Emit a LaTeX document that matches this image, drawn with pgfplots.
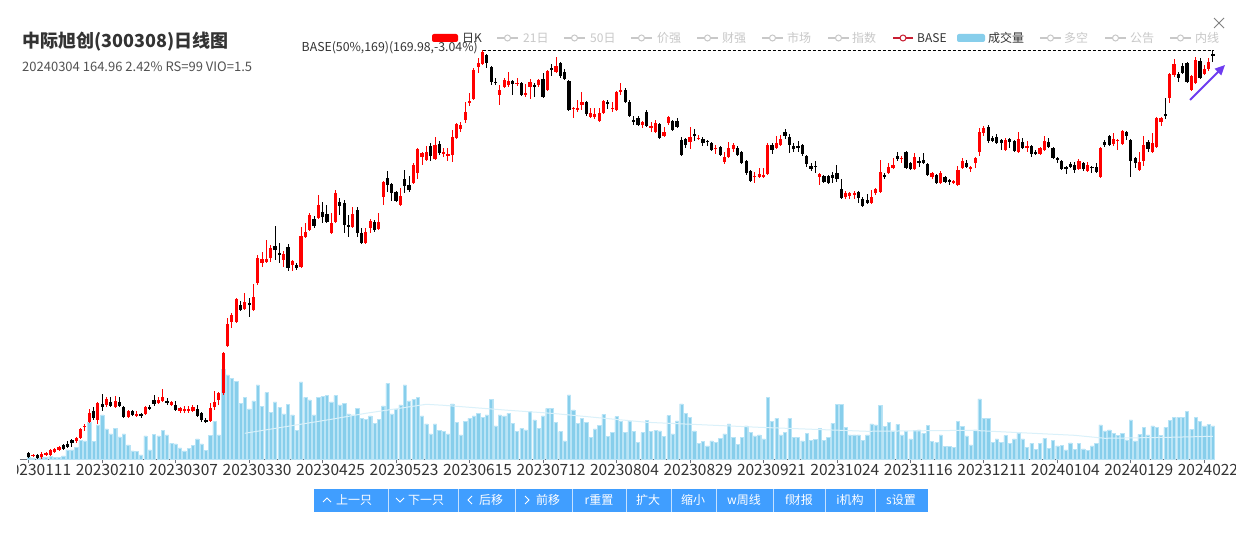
\documentclass[border=0pt]{standalone}
\usepackage{pgfplots}
\pgfplotsset{compat=1.18}
\usepackage{pgfplotstable}
\usepackage{fontspec}
\setmainfont{Noto Sans CJK SC}
\usetikzlibrary{arrows.meta}

\definecolor{upred}{RGB}{255,0,0}
\definecolor{downblk}{RGB}{0,0,0}
\definecolor{volblue}{RGB}{135,206,235}
\definecolor{voledge}{RGB}{185,228,246}
\definecolor{volline}{RGB}{218,241,250}
\definecolor{btnblue}{RGB}{64,158,255}
\definecolor{txtdark}{RGB}{51,51,51}
\definecolor{txtgrey}{RGB}{200,200,200}
\definecolor{axisgrey}{RGB}{110,112,121}
\definecolor{baseicon}{RGB}{200,30,50}
\definecolor{arrowviolet}{RGB}{110,60,240}

% daily candles: index, open, high, low, close, volume
\pgfplotstableread{
i o h l c v
0 8.8 9.2 6.8 7.2 2.0
1 7.6 8.4 7.2 8.0 1.3
2 8.0 8.4 6.4 6.8 1.0
3 7.2 9.2 6.4 8.4 2.0
4 8.0 9.2 7.6 8.8 2.0
5 8.0 10.4 7.6 10.0 2.6
6 9.2 10.8 8.8 10.4 1.6
7 10.0 11.6 9.6 11.2 2.0
8 12.0 12.4 10.0 10.4 3.3
9 12.4 13.6 10.8 11.2 9.3
10 14.0 14.4 11.2 12.8 9.3
11 13.6 15.2 12.8 14.8 12.0
12 14.8 18.8 14.4 18.4 18.6
13 19.2 20.4 17.6 19.6 18.3
14 21.2 26.4 20.8 24.8 36.6
15 25.6 27.2 22.0 22.8 17.6
16 22.0 29.2 20.4 28.8 34.3
17 28.4 32.4 25.6 27.2 44.3
18 28.0 31.2 27.2 30.4 30.3
19 29.2 31.2 27.2 27.6 25.3
20 27.2 31.6 26.8 29.6 31.0
21 29.2 31.2 27.2 27.6 22.3
22 27.2 27.6 22.8 23.2 25.3
23 23.2 26.0 22.8 25.6 14.3
24 25.6 26.0 23.6 24.0 8.3
25 23.6 25.6 23.2 24.4 7.6
26 24.4 24.8 22.8 23.6 4.3
27 24.4 27.6 24.0 27.2 23.3
28 27.2 28.0 26.0 26.4 9.3
29 30.0 32.0 27.6 28.4 25.0
30 28.8 31.2 28.4 30.0 23.3
31 29.6 34.4 29.2 31.2 28.6
32 29.6 30.8 28.0 28.8 24.3
33 28.0 29.6 27.6 29.2 16.0
34 28.0 29.6 25.6 26.0 15.3
35 25.6 27.2 24.8 26.8 11.3
36 25.6 27.6 24.8 26.4 8.3
37 25.6 27.6 24.8 26.4 11.0
38 25.6 28.0 25.2 27.2 14.0
39 26.4 28.0 23.2 23.6 20.3
40 24.8 25.2 21.2 22.0 15.3
41 22.0 22.8 20.8 21.2 8.6
42 21.6 28.8 21.2 26.8 23.6
43 27.2 33.6 26.0 29.2 37.6
44 30.0 33.2 28.0 32.8 24.3
45 32.8 49.2 32.0 48.8 90.0
46 51.6 62.8 51.2 60.4 84.3
47 61.2 64.8 58.8 64.0 81.0
48 61.2 70.8 60.8 70.4 77.6
49 68.0 69.6 65.6 66.0 56.0
50 66.4 72.8 66.0 69.2 62.0
51 68.8 70.8 63.2 68.0 50.3
52 66.0 76.4 65.6 71.2 58.3
53 76.8 88.0 76.0 86.8 74.3
54 84.8 89.2 83.2 86.4 52.6
55 85.2 94.0 84.8 86.4 66.6
56 86.8 92.0 85.2 90.8 46.6
57 91.6 99.6 86.0 90.0 57.3
58 88.8 92.8 84.8 88.0 52.0
59 86.0 89.6 83.2 88.4 45.3
60 91.2 92.4 81.6 82.8 55.0
61 84.0 86.0 81.6 85.6 44.3
62 84.0 84.8 82.0 82.8 28.6
63 83.2 99.2 82.8 95.6 77.3
64 95.2 100.8 94.8 97.2 62.0
65 98.0 104.8 97.6 104.0 59.3
66 102.4 103.6 98.8 99.6 44.3
67 102.8 112.0 102.4 108.0 62.0
68 105.2 109.2 100.8 103.2 62.6
69 104.4 108.0 100.8 101.2 63.6
70 96.8 104.8 96.4 100.8 57.3
71 101.2 114.0 100.8 112.8 63.6
72 109.2 110.8 104.0 107.6 54.5
73 108.8 110.0 96.8 100.0 56.0
74 100.0 104.0 95.2 99.2 45.3
75 99.2 107.2 98.8 104.4 44.3
76 106.0 107.2 95.2 96.8 51.0
77 96.8 98.8 92.4 92.8 41.0
78 92.8 98.8 92.4 97.2 40.0
79 98.8 102.4 96.8 101.6 43.3
80 101.2 102.0 97.2 98.0 36.0
81 98.4 104.8 98.0 101.2 40.0
82 111.2 117.6 108.0 117.2 53.3
83 118.8 121.6 113.2 116.0 76.0
84 116.4 116.8 109.6 112.8 45.3
85 113.2 113.6 109.2 109.6 50.0
86 108.0 114.8 107.6 111.6 54.3
87 118.4 122.0 112.8 115.6 74.3
88 116.0 119.6 113.2 114.0 58.3
89 116.8 124.8 116.4 124.0 60.0
90 120.8 130.8 118.4 130.4 62.0
91 127.2 129.2 124.0 128.8 43.3
92 126.0 131.6 125.6 129.2 35.3
93 131.6 132.8 125.6 127.6 25.3
94 126.4 135.2 126.0 132.0 35.3
95 132.4 133.6 128.0 128.8 28.6
96 128.4 130.8 127.2 129.2 28.0
97 127.6 130.8 125.6 128.4 25.3
98 128.0 138.0 125.2 135.2 55.3
99 134.8 140.8 134.4 140.4 37.0
100 138.4 141.2 137.2 140.0 24.3
101 142.0 149.2 140.8 145.2 37.6
102 148.8 152.8 147.6 149.6 41.0
103 150.4 162.8 150.0 162.0 43.3
104 163.2 166.8 160.8 164.8 46.0
105 164.4 170.0 164.0 169.2 42.0
106 168.0 168.4 162.8 164.8 44.3
107 163.2 163.6 156.0 157.2 60.0
108 157.2 158.8 156.0 156.8 33.3
109 152.0 156.0 148.0 154.0 44.3
110 155.2 158.8 154.8 158.0 43.3
111 156.0 161.2 155.2 157.6 46.0
112 157.6 158.0 152.0 156.4 36.0
113 156.4 158.8 155.6 156.8 27.6
114 156.8 157.2 151.6 152.0 31.0
115 152.0 156.4 151.2 152.8 29.3
116 155.2 158.4 150.4 157.2 47.6
117 156.0 156.8 151.2 155.2 39.3
118 156.0 158.4 155.2 158.0 31.0
119 158.4 160.8 150.8 151.2 43.3
120 154.0 162.0 153.6 161.6 51.0
121 162.8 164.4 159.6 162.0 51.0
122 161.2 167.2 160.8 163.6 37.0
123 164.8 165.2 158.8 159.6 27.6
124 161.2 162.4 158.0 158.4 18.3
125 157.6 158.0 145.6 146.0 64.3
126 146.4 147.2 142.8 146.8 49.3
127 146.0 150.0 145.2 146.8 36.0
128 148.0 153.2 146.0 149.2 41.0
129 149.2 149.6 143.6 144.4 36.6
130 143.2 146.8 142.8 144.8 21.6
131 143.2 146.8 142.4 144.4 30.3
132 141.6 146.8 141.2 144.8 33.6
133 144.8 150.0 144.4 149.6 45.0
134 149.2 150.0 146.4 148.4 22.6
135 146.4 149.2 145.2 146.8 26.6
136 146.0 153.6 145.6 153.2 42.6
137 153.2 156.8 152.0 154.0 37.6
138 154.0 154.8 148.8 149.2 26.6
139 149.2 150.0 143.2 143.6 38.3
140 142.0 143.6 140.0 141.2 27.6
141 142.8 143.6 139.6 140.0 17.0
142 140.0 141.6 138.8 141.2 26.6
143 145.2 146.0 139.2 139.6 38.6
144 138.8 141.2 137.2 139.6 28.0
145 137.2 142.0 136.8 140.8 29.0
146 140.4 140.8 134.4 134.8 28.3
147 135.6 139.2 135.2 137.2 22.6
148 140.8 143.6 140.0 143.2 43.6
149 141.6 142.0 137.6 138.0 25.3
150 141.6 142.8 138.8 139.2 38.3
151 134.0 135.2 127.6 128.0 55.3
152 134.4 134.8 130.8 132.0 46.0
153 133.2 139.2 130.4 135.2 41.6
154 136.4 138.4 133.6 135.6 28.3
155 134.4 136.0 134.0 134.8 16.0
156 134.4 135.2 131.6 132.8 17.6
157 133.6 134.0 131.6 133.2 13.3
158 132.8 133.2 129.6 130.0 18.3
159 130.4 132.0 128.4 130.8 16.6
160 131.2 131.6 127.6 128.0 21.0
161 125.2 129.2 124.4 127.2 25.3
162 127.2 133.2 126.8 130.8 35.3
163 130.4 132.8 129.2 132.0 21.6
164 130.8 131.6 127.6 128.0 15.0
165 129.2 129.6 124.4 124.8 21.6
166 125.6 126.0 120.0 120.8 33.3
167 121.6 122.0 117.2 117.6 26.6
168 119.2 121.2 116.8 119.6 23.5
169 119.2 122.8 118.8 120.4 24.3
170 119.2 122.8 118.8 120.0 20.3
171 120.4 132.8 120.0 132.0 62.0
172 132.0 132.8 128.4 130.0 37.6
173 130.8 135.6 130.4 132.8 41.0
174 132.0 136.0 131.6 134.4 24.3
175 137.2 138.4 134.4 135.6 27.0
176 135.2 136.4 128.8 132.0 41.0
177 131.6 132.8 129.2 130.4 22.0
178 131.6 133.6 129.2 130.8 22.0
179 132.0 132.4 127.6 128.4 18.3
180 127.6 128.0 123.2 124.4 26.0
181 123.6 124.8 121.6 122.4 18.6
182 123.6 125.6 120.8 123.2 20.0
183 119.2 120.8 116.0 120.4 31.0
184 119.6 120.0 116.8 117.2 18.6
185 119.6 120.0 116.4 116.8 21.6
186 120.0 121.2 116.8 118.8 36.0
187 120.8 124.0 117.2 118.4 55.0
188 114.4 118.4 110.4 110.8 55.0
189 111.2 113.6 110.4 112.8 31.6
190 111.6 113.2 110.4 112.8 24.3
191 112.0 113.6 110.4 112.8 24.3
192 113.2 113.6 108.8 110.8 24.3
193 110.4 111.2 107.2 107.6 19.0
194 110.0 112.4 108.4 108.8 24.3
195 108.8 114.0 108.4 111.2 35.3
196 112.8 114.8 112.0 114.4 34.3
197 113.2 126.0 112.8 121.2 53.6
198 120.0 120.8 118.4 119.2 32.6
199 120.8 124.8 120.4 123.2 37.0
200 122.8 126.8 122.4 124.0 28.3
201 127.6 129.2 125.6 126.4 35.0
202 126.4 127.6 124.8 126.8 24.3
203 129.2 129.6 122.4 122.8 27.6
204 124.8 125.2 122.0 122.4 20.3
205 122.4 128.8 122.0 127.2 28.6
206 125.6 127.2 123.2 124.8 29.3
207 126.0 128.8 124.4 124.8 26.0
208 124.4 124.8 119.6 120.0 33.6
209 119.2 121.2 118.4 120.8 17.6
210 120.0 120.4 116.4 116.8 16.6
211 116.8 121.6 116.4 120.8 24.3
212 119.2 119.6 116.8 117.2 12.6
213 118.0 118.4 116.0 117.2 12.6
214 116.8 118.0 116.4 117.6 11.6
215 116.0 123.6 115.6 122.0 38.0
216 122.8 126.8 122.4 125.6 32.6
217 124.8 126.0 122.8 123.2 23.5
218 122.4 123.6 121.2 123.2 14.3
219 124.8 127.2 122.8 126.8 29.3
220 129.2 138.8 127.6 137.2 60.3
221 136.8 139.6 135.6 138.8 41.0
222 139.2 140.0 132.8 133.6 41.0
223 134.8 135.6 133.2 133.6 17.0
224 135.2 136.4 132.4 132.8 20.3
225 134.0 134.4 130.0 132.8 16.6
226 130.0 134.8 129.6 134.0 23.6
227 134.4 134.8 130.8 133.2 16.0
228 133.6 134.0 129.2 129.6 20.3
229 129.2 137.2 128.8 134.4 26.0
230 133.2 134.8 130.4 130.8 20.3
231 130.8 133.6 129.2 131.6 11.6
232 131.6 132.0 127.2 128.4 16.0
233 129.2 130.0 128.0 128.4 10.0
234 128.4 131.2 128.0 130.8 16.0
235 130.0 135.6 129.6 133.6 21.0
236 133.2 134.8 130.8 131.2 11.0
237 130.8 131.2 126.4 126.8 18.6
238 126.8 127.2 124.8 126.0 13.3
239 125.6 126.0 122.0 122.4 13.6
240 123.2 123.6 120.4 122.4 9.3
241 124.4 125.2 122.8 123.2 16.3
242 124.0 125.2 120.8 122.0 10.2
243 122.4 126.4 122.0 125.6 16.0
244 124.8 125.2 121.6 122.4 10.3
245 121.6 125.2 121.2 124.0 8.6
246 123.2 123.6 120.8 122.8 13.3
247 123.2 124.8 120.8 121.2 16.0
248 119.2 131.2 118.8 130.8 34.3
249 133.2 134.0 131.2 132.0 28.3
250 135.6 136.0 131.6 132.0 29.3
251 132.4 136.8 131.6 134.4 26.0
252 133.6 134.4 130.0 134.0 23.6
253 132.4 138.0 132.0 137.6 26.0
254 137.2 137.6 134.0 135.6 19.3
255 134.0 134.4 119.2 125.6 39.3
256 126.8 127.2 122.8 124.8 18.3
257 122.0 129.2 121.6 125.2 25.0
258 125.6 135.6 123.6 132.0 32.0
259 133.2 134.0 129.2 130.4 24.3
260 129.2 136.8 128.8 132.8 33.3
261 131.2 143.2 130.8 142.8 32.0
262 141.2 143.2 139.6 142.8 23.6
263 144.4 150.8 142.4 143.6 32.0
264 150.8 160.8 148.8 160.4 38.6
265 160.0 166.4 159.2 164.4 42.0
266 160.4 161.2 157.2 158.8 42.0
267 163.6 164.8 160.4 160.8 42.0
268 164.8 165.2 156.8 157.2 47.6
269 154.0 160.0 153.6 159.6 30.0
270 156.8 167.2 156.4 166.0 42.0
271 165.6 166.8 158.4 158.8 37.6
272 160.4 164.0 160.0 162.4 33.3
273 162.4 166.8 161.6 165.2 34.6
274 168.4 170.0 165.2 167.6 33.3
}\kdata

\begin{document}
\begin{tikzpicture}[x=1pt,y=1pt]
\useasboundingbox (0,0) rectangle (1236,535);
\fill[white] (0,0) rectangle (1236,535);

% volume panel with the date axis
\begin{scope}
\clip (17,0) rectangle (1236,535);
\begin{axis}[at={(20pt,75.7pt)}, anchor=south west, scale only axis,
  width=1194pt, height=100pt,
  xmin=-2.013, xmax=274.25, ymin=0, ymax=100,
  axis y line=none, axis x line*=bottom,
  x axis line style={draw=axisgrey, line width=0.9pt},
  xtick={0,17,...,272},
  xticklabels={20230111,20230210,20230307,20230330,20230425,20230523,20230615,20230712,20230804,20230829,20230921,20231024,20231116,20231211,20240104,20240129,20240229},
  xtick align=outside, major tick length=4pt,
  tick style={draw=axisgrey, line width=0.8pt},
  x tick label style={font=\fontsize{15.5}{16}\selectfont, text=txtdark, xshift=8pt, yshift=3pt},
  clip=false]
\addplot[ybar, bar width=3.2pt, fill=volblue, draw=voledge, line width=0.4pt]
  table[x=i, y=v]{\kdata};
\addplot[volline, line width=1pt, mark=none] coordinates {
  (50,26) (70,40) (78,46) (92,55) (96,54) (111,49) (121,46) (143,37)
  (169,32) (194,28) (218,29) (242,24) (249,21) (264,22) (274,23)};
\end{axis}
\end{scope}

% price panel: candles drawn as error bars (wick thin, body thick)
\begin{axis}[at={(20pt,70pt)}, anchor=south west, scale only axis,
  width=1194pt, height=430pt,
  xmin=-2.013, xmax=274.25, ymin=4, ymax=176,
  axis lines=none, clip=false]
% up days
\addplot[draw=none, mark=none, restrict expr to domain={\thisrow{c}-\thisrow{o}}{0:1000},
  error bars/.cd, y dir=plus, y explicit, error mark=none,
  error bar style={draw=upred, line width=0.9pt}]
  table[x=i, y=l, y error expr=\thisrow{h}-\thisrow{l}]{\kdata};
\addplot[draw=none, mark=none, restrict expr to domain={\thisrow{c}-\thisrow{o}}{0:1000},
  error bars/.cd, y dir=plus, y explicit, error mark=none,
  error bar style={draw=upred, line width=3.2pt}]
  table[x=i, y=o, y error expr=\thisrow{c}-\thisrow{o}]{\kdata};
% down days
\addplot[draw=none, mark=none, restrict expr to domain={\thisrow{c}-\thisrow{o}}{-1000:0},
  error bars/.cd, y dir=plus, y explicit, error mark=none,
  error bar style={draw=downblk, line width=0.9pt}]
  table[x=i, y=l, y error expr=\thisrow{h}-\thisrow{l}]{\kdata};
\addplot[draw=none, mark=none, restrict expr to domain={\thisrow{c}-\thisrow{o}}{-1000:0},
  error bars/.cd, y dir=plus, y explicit, error mark=none,
  error bar style={draw=downblk, line width=3.2pt}]
  table[x=i, y=c, y error expr=\thisrow{o}-\thisrow{c}]{\kdata};
% base line
\addplot[black, line width=0.6pt, dash pattern=on 3pt off 2pt] coordinates {(105,169.98) (274.2,169.98)};
\end{axis}

% header
\node[anchor=west, inner sep=0, text=txtdark, font=\fontsize{18}{18}\selectfont\bfseries] at (22,493) {中际旭创(300308)日线图};
\node[anchor=west, inner sep=0, text=txtdark!85, font=\fontsize{13}{13}\selectfont] at (22,468) {20240304 164.96 2.42\% RS=99 VIO=1.5};
\node[anchor=east, inner sep=0, text=txtdark, font=\fontsize{12.3}{12.5}\selectfont] at (478,487) {BASE(50\%,169)(169.98,-3.04\%)};

% legend
\fill[upred, rounded corners=2pt] (432,493) rectangle (458,501);
\fill[volblue, rounded corners=2pt] (957,493) rectangle (985,501);
\foreach \a/\b in {497/518,564/585,631/652,697/718,762/783,828/849,1040/1061,1105/1126,1170/1191}{
  \draw[txtgrey, line width=1.2pt] (\a,497) -- (\b,497);
  \draw[txtgrey, fill=white, line width=1pt] ({(\a+\b)/2},497) circle (3);
}
\draw[baseicon, line width=1.2pt] (893,497) -- (913,497);
\draw[baseicon, fill=white, line width=1pt] (903,497) circle (3);
\begin{scope}[every node/.style={anchor=west, inner sep=0, font=\fontsize{12}{12}\selectfont}]
\node[text=txtdark] at (462,497) {日K};
\node[text=txtgrey] at (523,497) {21日};
\node[text=txtgrey] at (590,497) {50日};
\node[text=txtgrey] at (657,497) {价强};
\node[text=txtgrey] at (722,497) {财强};
\node[text=txtgrey] at (787,497) {市场};
\node[text=txtgrey] at (852,497) {指数};
\node[text=txtdark] at (917,497) {BASE};
\node[text=txtdark] at (988,497) {成交量};
\node[text=txtgrey] at (1064,497) {多空};
\node[text=txtgrey] at (1130,497) {公告};
\node[text=txtgrey] at (1195,497) {内线};
\end{scope}

% close mark and arrow
\draw[gray, line width=0.9pt] (1214,507) -- (1224,517) (1214,517) -- (1224,507);
\draw[arrowviolet, line width=1.8pt, -{Triangle[length=10pt, width=9pt]}] (1190,435) -- (1225,470);

% buttons
\fill[btnblue] (314,23) rectangle (928,46);
\foreach \s in {388,458,515,572,626,671,716,773,825,875}{
  \draw[white!70!btnblue, line width=0.8pt] (\s,23) -- (\s,46);
}
\draw[white, line width=0.8pt] (323,33) -- (327,37) -- (331,33);
\draw[white, line width=0.8pt] (396,37) -- (400,33) -- (404,37);
\draw[white, line width=0.8pt] (472,31) -- (468,35) -- (472,39);
\draw[white, line width=0.8pt] (525,31) -- (529,35) -- (525,39);
\begin{scope}[every node/.style={inner sep=0, text=white, font=\fontsize{12}{12}\selectfont}]
\node at (354,35) {上一只};
\node at (426,35) {下一只};
\node at (491,35) {后移};
\node at (548,35) {前移};
\node at (599,35) {r重置};
\node at (648,35) {扩大};
\node at (693,35) {缩小};
\node at (744,35) {w周线};
\node at (799,35) {f财报};
\node at (850,35) {i机构};
\node at (901,35) {s设置};
\end{scope}
\end{tikzpicture}
\end{document}
